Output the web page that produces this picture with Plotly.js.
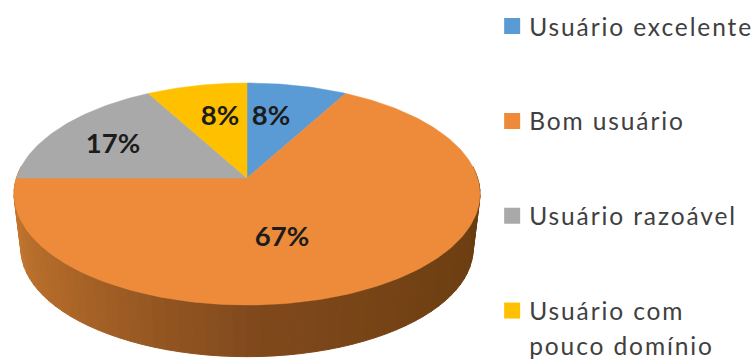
<!DOCTYPE html>
<html>
<head>
<meta charset="utf-8">
<script src="https://cdn.plot.ly/plotly-3.0.1.min.js"></script>
<style>
html,body{margin:0;padding:0;background:#fff}
#chart{width:756px;height:360px}
.legendtext{letter-spacing:1.9px;transform:translateX(-3px)}
</style>
</head>
<body>
<div id="chart"></div>
<script>
// Shares of respondents by self-assessed user level
const categories = ['Usuário excelente', 'Bom usuário', 'Usuário razoável', 'Usuário com<br>pouco domínio'];
const values = [8, 67, 17, 8];
const colors = ['#5B9BD5', '#ED8B3B', '#A9A9A9', '#FFC000'];

// Where each percentage label sits on the plot
const labelX = [271, 282, 113, 220];
const labelY = [118, 239, 146, 118];

// Projection of the tilted disc
const disc = {cx: 247, cy: 194, rx: 233, ry: 111, apexLift: 16, depth: 55, baseScale: 0.97};
const k = disc.apexLift / disc.ry;
const squeeze = Math.sqrt(1 - k * k);

// Angle is measured clockwise from 12 o'clock, in degrees
function rim(deg, scale, drop) {
  const a = deg * Math.PI / 180, u = Math.sin(a), v = Math.cos(a), w = 1 + k * v;
  return [
    disc.cx + scale * disc.rx * squeeze * u / w,
    disc.cy + drop - scale * (disc.ry * v + disc.apexLift) / w
  ];
}
const apex = [disc.cx, disc.cy - disc.apexLift];

function mix(a, b, t) {
  const p = s => [1, 3, 5].map(i => parseInt(s.substr(i, 2), 16));
  const A = p(a), B = p(b);
  return 'rgb(' + A.map((c, i) => Math.round(c + (B[i] - c) * t)).join(',') + ')';
}
const wallStops = ['#CF8035', '#AE6728', '#80491C', '#704012', '#673C11'];
function wallColor(t) {
  const s = t * (wallStops.length - 1), i = Math.min(Math.floor(s), wallStops.length - 2);
  return mix(wallStops[i], wallStops[i + 1], s - i);
}

const traces = [];

// Side wall of the disc, shaded from the left edge to the right edge
for (let d = 276; d > 84; d -= 3) {
  const a = rim(d, 1, 0), b = rim(d - 3, 1, 0);
  const c = rim(d - 3, disc.baseScale, disc.depth), e = rim(d, disc.baseScale, disc.depth);
  const col = wallColor(Math.min(1, Math.max(0, (276 - d) / 192)));
  traces.push({
    x: [a[0], b[0], c[0], e[0], a[0]], y: [a[1], b[1], c[1], e[1], a[1]],
    mode: 'lines', fill: 'toself', fillcolor: col, line: {color: col, width: 1},
    hoverinfo: 'skip', showlegend: false
  });
}

// Top face: one wedge per category
const total = values.reduce((s, v) => s + v, 0);
let start = 0;
values.forEach((v, i) => {
  const end = start + v / total * 360;
  const xs = [apex[0]], ys = [apex[1]];
  for (let d = start; d < end; d += 1) { const p = rim(d, 1, 0); xs.push(p[0]); ys.push(p[1]); }
  const last = rim(end, 1, 0);
  xs.push(last[0], apex[0]); ys.push(last[1], apex[1]);
  traces.push({
    x: xs, y: ys, mode: 'lines', fill: 'toself', fillcolor: colors[i],
    line: {color: colors[i], width: 0.5}, hoverinfo: 'skip', showlegend: false
  });
  start = end;
});

// Percentage labels
traces.push({
  x: labelX, y: labelY, mode: 'text', text: values.map(v => v + '%'),
  textposition: 'middle center',
  textfont: {family: 'Lato, sans-serif', size: 27.5, color: '#1c1c1c', weight: 700},
  hoverinfo: 'skip', showlegend: false
});

// Legend entries; a wrapped name continues on a swatchless row of the same group
categories.forEach((name, i) => {
  name.split('<br>').forEach((line, row) => {
    traces.push({
      x: [null], y: [null], mode: 'markers', name: line, legendgroup: 'g' + i,
      marker: {symbol: 'square', size: 16, color: row === 0 ? colors[i] : 'rgba(0,0,0,0)'}
    });
  });
});

const layout = {
  width: 756, height: 360,
  margin: {l: 0, r: 0, t: 0, b: 0, autoexpand: false},
  paper_bgcolor: '#fff', plot_bgcolor: '#fff',
  xaxis: {range: [0, 756], visible: false, fixedrange: true},
  yaxis: {range: [360, 0], visible: false, fixedrange: true},
  legend: {
    x: 0.651, y: 0.99, xanchor: 'left', yanchor: 'top', bgcolor: 'rgba(0,0,0,0)',
    font: {family: 'Lato, sans-serif', size: 24.5, color: '#404040'},
    tracegroupgap: 60, itemwidth: 30
  }
};
Plotly.newPlot('chart', traces, layout, {displayModeBar: false, staticPlot: true});
</script>
</body>
</html>
